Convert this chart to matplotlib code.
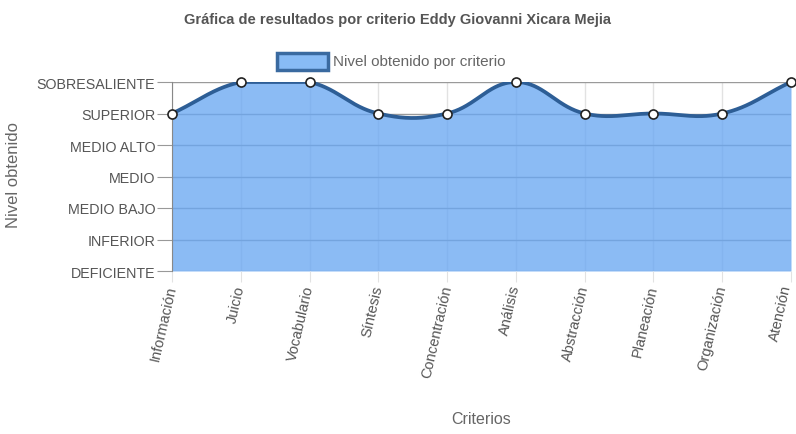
import numpy as np
import matplotlib
matplotlib.use("Agg")
import matplotlib.pyplot as plt
import matplotlib.transforms as mtransforms
from matplotlib.patches import Rectangle

plt.rcParams['font.family'] = ['Liberation Sans', 'DejaVu Sans']

categories = ["Información", "Juicio", "Vocabulario", "Síntesis", "Concentración",
              "Análisis", "Abstracción", "Planeación", "Organización", "Atención"]
levels = ["DEFICIENTE", "INFERIOR", "MEDIO BAJO", "MEDIO", "MEDIO ALTO",
          "SUPERIOR", "SOBRESALIENTE"]
values = [5, 6, 6, 5, 5, 6, 5, 5, 5, 6]

title = "Gráfica de resultados por criterio Eddy Giovanni Xicara Mejia"
series_name = "Nivel obtenido por criterio"

W, H = 796, 435
fig = plt.figure(figsize=(W / 100, H / 100), dpi=100)
L, R, T, B = 172, 791, 83, 272
ax = fig.add_axes([L / W, 1 - B / H, (R - L) / W, (B - T) / H])

n = len(categories)
x = np.arange(n, dtype=float)
y = np.array(values, dtype=float)
ymin, ymax = 0, len(levels) - 1
ax.set_xlim(0, n - 1)
ax.set_ylim(ymin, ymax)

# pixel scale for Chart.js style spline
sx = (R - L) / (n - 1)
sy = (B - T) / (ymax - ymin)
px = x * sx
py = y * sy
tension = 0.4
cp_prev = np.zeros((n, 2))
cp_next = np.zeros((n, 2))
for i in range(n):
    cur = np.array([px[i], py[i]])
    prev = np.array([px[i - 1], py[i - 1]]) if i > 0 else cur
    nxt = np.array([px[i + 1], py[i + 1]]) if i < n - 1 else cur
    d01 = np.hypot(*(cur - prev))
    d12 = np.hypot(*(nxt - cur))
    s01 = d01 / (d01 + d12) if d01 + d12 else 0
    s12 = d12 / (d01 + d12) if d01 + d12 else 0
    fa, fb = tension * s01, tension * s12
    cp_prev[i] = cur - fa * (nxt - prev)
    cp_next[i] = cur + fb * (nxt - prev)
for cp in (cp_prev, cp_next):
    cp[:, 1] = np.clip(cp[:, 1], ymin * sy, ymax * sy)
    cp[:, 0] = np.clip(cp[:, 0], 0, (n - 1) * sx)

tt = np.linspace(0, 1, 60)
cx, cy = [], []
for i in range(n - 1):
    p0 = np.array([px[i], py[i]])
    p1 = cp_next[i]
    p2 = cp_prev[i + 1]
    p3 = np.array([px[i + 1], py[i + 1]])
    pts = ((1 - tt)[:, None] ** 3 * p0 + 3 * ((1 - tt) ** 2 * tt)[:, None] * p1
           + 3 * ((1 - tt) * tt ** 2)[:, None] * p2 + (tt ** 3)[:, None] * p3)
    cx.extend(pts[:, 0] / sx)
    cy.extend(pts[:, 1] / sy)
cx = np.array(cx)
cy = np.array(cy)

# grid
for xi in x:
    ax.axvline(xi, color="#e2e2e2", lw=1, zorder=0)
for yi in range(ymin, ymax + 1):
    ax.axhline(yi, color="#9a9a9a", lw=1, zorder=0)

ax.fill_between(cx, cy, ymin, color="#6aa8f2", alpha=0.78, lw=0, zorder=1)
ax.plot(cx, cy, color="#2d5e96", lw=2.7, zorder=3, solid_capstyle="round")
ax.plot(x, y, 'o', ms=6.5, mfc="white", mec="#222222", mew=1.2, zorder=4, clip_on=False)

for s in ax.spines.values():
    s.set_visible(False)
ax.spines['left'].set_visible(True)
ax.spines['left'].set_color("#888888")

ax.set_yticks(range(ymin, ymax + 1))
ax.set_yticklabels(levels, fontsize=10.3, color="#555555")
ax.tick_params(axis='y', length=11, color="#999999", pad=1)
ax.set_xticks(x)
ax.set_xticklabels(categories, fontsize=10.5, color="#555555", rotation=77,
                   ha='right', va='center', rotation_mode='anchor')
ax.tick_params(axis='x', length=8, color="#e2e2e2", pad=2)
last = ax.get_xticklabels()[-1]
last.set_transform(last.get_transform() +
                   mtransforms.ScaledTranslation(-4 / 100, 0, fig.dpi_scale_trans))

fig.text(398 / W, 1 - 20 / H, title, ha='center', va='center', fontsize=10.5,
         fontweight='bold', color="#555555")
fig.text(14 / W, 1 - 175 / H, "Nivel obtenido", rotation=90, ha='center', va='center',
         fontsize=12, color="#666666")
fig.text(481 / W, 1 - 420 / H, "Criterios", ha='center', va='center',
         fontsize=11.5, color="#666666")

# legend
fig.patches.append(Rectangle((277 / W, 1 - 71 / H), 51 / W, 17 / H,
                             transform=fig.transFigure, facecolor="#88bbf5",
                             edgecolor="#3a6aa0", lw=2.5))
fig.text(333 / W, 1 - 62 / H, series_name, ha='left', va='center', fontsize=11,
         color="#666666")

fig.savefig("out.png", dpi=100)
